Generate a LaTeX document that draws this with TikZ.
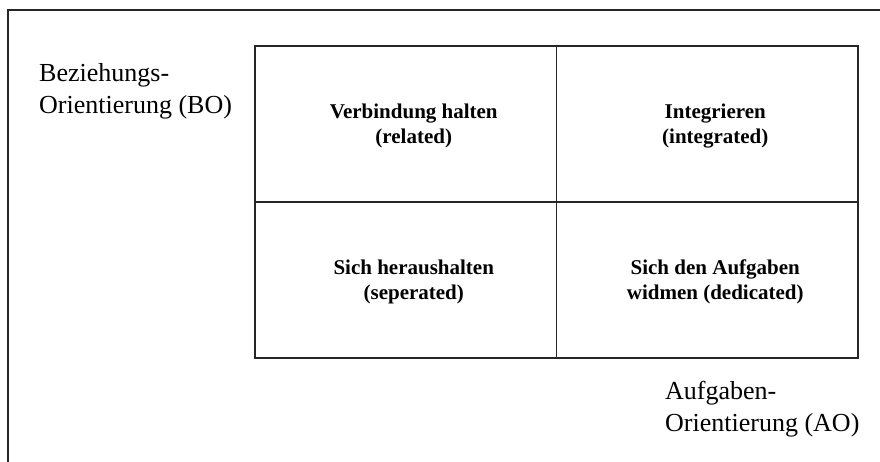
\documentclass[tikz,border=0pt]{standalone}
\usepackage{fontspec}
\setmainfont{Liberation Serif}
\usepackage{tikz}

\tikzset{
  frameline/.style={line width=1.4pt, black!85},
  celltext/.style={align=center, inner sep=0pt, font=\fontsize{21}{25}\selectfont\bfseries},
  axislabel/.style={anchor=north west, align=left, inner sep=0pt, font=\fontsize{26}{32}\selectfont}
}

\begin{document}
\begin{tikzpicture}[scale=1]

  \newcommand\X{301.5pt};
  \newcommand\Y{156pt};

  \useasboundingbox (-255pt, 46pt) rectangle (625pt, -416pt);

  \draw[frameline] (-247pt, -416pt) -- (-247pt, 36pt) -- (625pt, 36pt); %% outer frame

  \draw[frameline] (0*\X, 0*\Y) rectangle (2*\X, -2*\Y);
  \draw[frameline] (1*\X, 0*\Y) -- (1*\X, -2*\Y);
  \draw[frameline] (0*\X, -1*\Y) -- (2*\X, -1*\Y);

  \node[celltext] (related) at (8pt+0.5*\X, -2pt-0.5*\Y) {Verbindung halten\\(related)};
  \node[celltext] (integrated) at (8pt+1.5*\X, -2pt-0.5*\Y) {Integrieren\\(integrated)};
  \node[celltext] (seperated) at (8pt+0.5*\X, -2pt-1.5*\Y) {Sich heraushalten\\(seperated)};
  \node[celltext] (dedicated) at (8pt+1.5*\X, -2pt-1.5*\Y) {Sich den Aufgaben\\widmen (dedicated)};

  \node[axislabel] (bo) at (-216pt, -17pt) {Beziehungs-\\Orientierung (BO)}; %% BO axis
  \node[axislabel] (ao) at (410pt, -335pt) {Aufgaben-\\Orientierung (AO)}; %% AO axis

\end{tikzpicture}
\end{document}
